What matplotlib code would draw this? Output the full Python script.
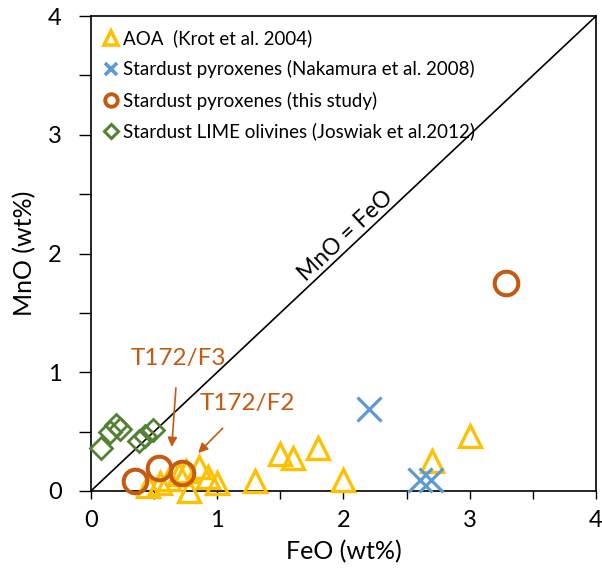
import numpy as np
import matplotlib
matplotlib.use("Agg")
import matplotlib.pyplot as plt
from matplotlib.lines import Line2D

plt.rcParams['font.family'] = ['Lato', 'DejaVu Sans']

# AOA (Krot et al. 2004)
aoa_feo = [0.45, 0.55, 0.62, 0.70, 0.75, 0.78, 0.86, 0.93, 1.00, 1.30, 1.50, 1.60, 1.80, 2.00, 2.70, 3.00]
aoa_mno = [0.04, 0.07, 0.10, 0.14, 0.17, 0.00, 0.20, 0.12, 0.07, 0.08, 0.31, 0.28, 0.36, 0.09, 0.25, 0.46]

# Stardust pyroxenes (Nakamura et al. 2008)
nak_feo = [2.20, 2.61, 2.69]
nak_mno = [0.69, 0.09, 0.09]

# Stardust pyroxenes (this study)
this_feo = [0.35, 0.54, 0.72, 3.29]
this_mno = [0.08, 0.19, 0.15, 1.75]

# Stardust LIME olivines (Joswiak et al. 2012)
lime_feo = [0.08, 0.15, 0.20, 0.23, 0.38, 0.43, 0.49]
lime_mno = [0.36, 0.50, 0.56, 0.52, 0.42, 0.46, 0.51]

YELLOW = '#FFC000'
BLUE = '#5B9BD5'
ORANGE = '#C55A11'
GREEN = '#548235'

fig = plt.figure(figsize=(6.02, 5.68), dpi=100)
ax = fig.add_axes([0.151, 0.1356, 0.839, 0.836])

# 1:1 line
ax.plot([0, 4], [0, 4], color='black', lw=1.2, zorder=1)
ax.text(2.02, 2.15, 'MnO = FeO', rotation=45, transform_rotates_text=True,
        rotation_mode='anchor', ha='center', va='center', fontsize=16.5)

ax.plot(lime_feo, lime_mno, 'D', ms=11.5, mfc='none', mec=GREEN, mew=2.0,
        clip_on=False, zorder=3)
ax.plot(aoa_feo, aoa_mno, '^', ms=16.5, mfc='none', mec=YELLOW, mew=2.4,
        clip_on=False, zorder=3)
ax.plot(nak_feo, nak_mno, 'x', ms=17, mec=BLUE, mew=2.3,
        clip_on=False, zorder=3)
ax.plot(this_feo, this_mno, 'o', ms=17, mfc='none', mec=ORANGE, mew=2.9,
        clip_on=False, zorder=4)

# annotations
ax.annotate('T172/F3', xy=(0.64, 0.37), xytext=(0.69, 1.12), color=ORANGE,
            fontsize=17.5, ha='center', va='center',
            arrowprops=dict(arrowstyle='-|>', color=ORANGE, lw=1.2,
                            shrinkA=12, shrinkB=0, mutation_scale=14))
ax.annotate('T172/F2', xy=(0.85, 0.32), xytext=(1.24, 0.74), color=ORANGE,
            fontsize=17.5, ha='center', va='center',
            arrowprops=dict(arrowstyle='-|>', color=ORANGE, lw=1.2,
                            shrinkA=12, shrinkB=0, mutation_scale=14))

ax.set_xlim(0, 4)
ax.set_ylim(0, 4)
ax.set_xticks(np.arange(0, 4.01, 0.5))
ax.set_yticks(np.arange(0, 4.01, 0.5))
ax.set_xticklabels(['0', '', '1', '', '2', '', '3', '', '4'])
ax.set_yticklabels(['0', '', '1', '', '2', '', '3', '', '4'])
ax.tick_params(axis='x', direction='out', length=6, width=1, labelsize=17, pad=8)
ax.tick_params(axis='y', direction='out', length=9, width=1, labelsize=17, pad=12)
for sp in ax.spines.values():
    sp.set_linewidth(1.2)

ax.set_xlabel('FeO (wt%)', fontsize=18, labelpad=6)
ax.set_ylabel('MnO (wt%)', fontsize=18, labelpad=8)

# legend with smaller markers
handles = [
    Line2D([], [], ls='none', marker='^', ms=10, mfc='none', mec=YELLOW, mew=2.6),
    Line2D([], [], ls='none', marker='x', ms=9, mec=BLUE, mew=2.6),
    Line2D([], [], ls='none', marker='o', ms=9, mfc='none', mec=ORANGE, mew=2.8),
    Line2D([], [], ls='none', marker='D', ms=7, mfc='none', mec=GREEN, mew=2.2),
]
labels = ['AOA  (Krot et al. 2004)',
          'Stardust pyroxenes (Nakamura et al. 2008)',
          'Stardust pyroxenes (this study)',
          'Stardust LIME olivines (Joswiak et al.2012)']
ax.legend(handles, labels, loc='upper left', frameon=False, fontsize=13.5,
          handlelength=0.7, handletextpad=0.3, labelspacing=0.7,
          borderaxespad=0.25, borderpad=0.45)

fig.savefig('out.png', dpi=100)
